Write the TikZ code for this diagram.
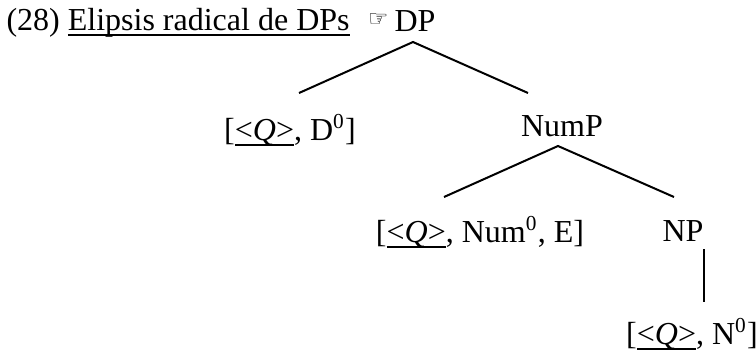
\documentclass[tikz,border=0pt]{standalone}
\usepackage{fontspec}
\setmainfont{Liberation Serif}
\newfontfamily\handfont{DejaVu Sans}
\usepackage{tikz}
\usetikzlibrary{calc}
\tikzset{every picture/.append style={font=\fontsize{12pt}{14pt}\selectfont}}
\tikzset{
  lbl/.style={inner sep=0pt,anchor=base},
  branch/.style={line width=0.75pt},
}
\newsavebox{\ulsave}
\newcommand{\undl}[1]{\sbox{\ulsave}{#1}\rlap{\rule[-2.2pt]{\wd\ulsave}{0.6pt}}\usebox{\ulsave}}
\newcommand{\qtrace}{\undl{<\textit{Q}>}}

\begin{document}
\begin{tikzpicture}[x=0.375pt,y=-0.375pt]
    \useasboundingbox (0,0) rectangle (756,353);
    % example heading
    \node[lbl,anchor=base west] (title) at (6,30) {(28) \undl{Elipsis radical de DPs}\hspace{7pt}\raisebox{1.4pt}{\handfont\fontsize{8.5pt}{8.5pt}\selectfont ☞}};
    % tree
    \node[lbl] (dp) at (415,31) {DP};
    \node[lbl] (dnull) at (290,140) {[\qtrace, D\textsuperscript{0}]};
    \node[lbl] (nump) at (562,136) {NumP};
    \node[lbl] (numnull) at (480,242) {[\qtrace, Num\textsuperscript{0}, E]};
    \node[lbl] (np) at (683,241) {NP};
    \node[lbl] (nnull) at (692,344) {[\qtrace, N\textsuperscript{0}]};
    \draw[branch] ($(dnull.base)+(9,-47)$) -- ($(dp.base)+(-2,11)$) -- ($(nump.base)+(-34,-43)$);
    \draw[branch] ($(numnull.base)+(-36,-45)$) -- ($(nump.base)+(-4,10)$) -- ($(np.base)+(-9,-44)$);
    \draw[line width=1.1pt] ($(np.base)+(21,8)$) -- ($(nnull.base)+(12,-42)$);
  \end{tikzpicture}
\end{document}
